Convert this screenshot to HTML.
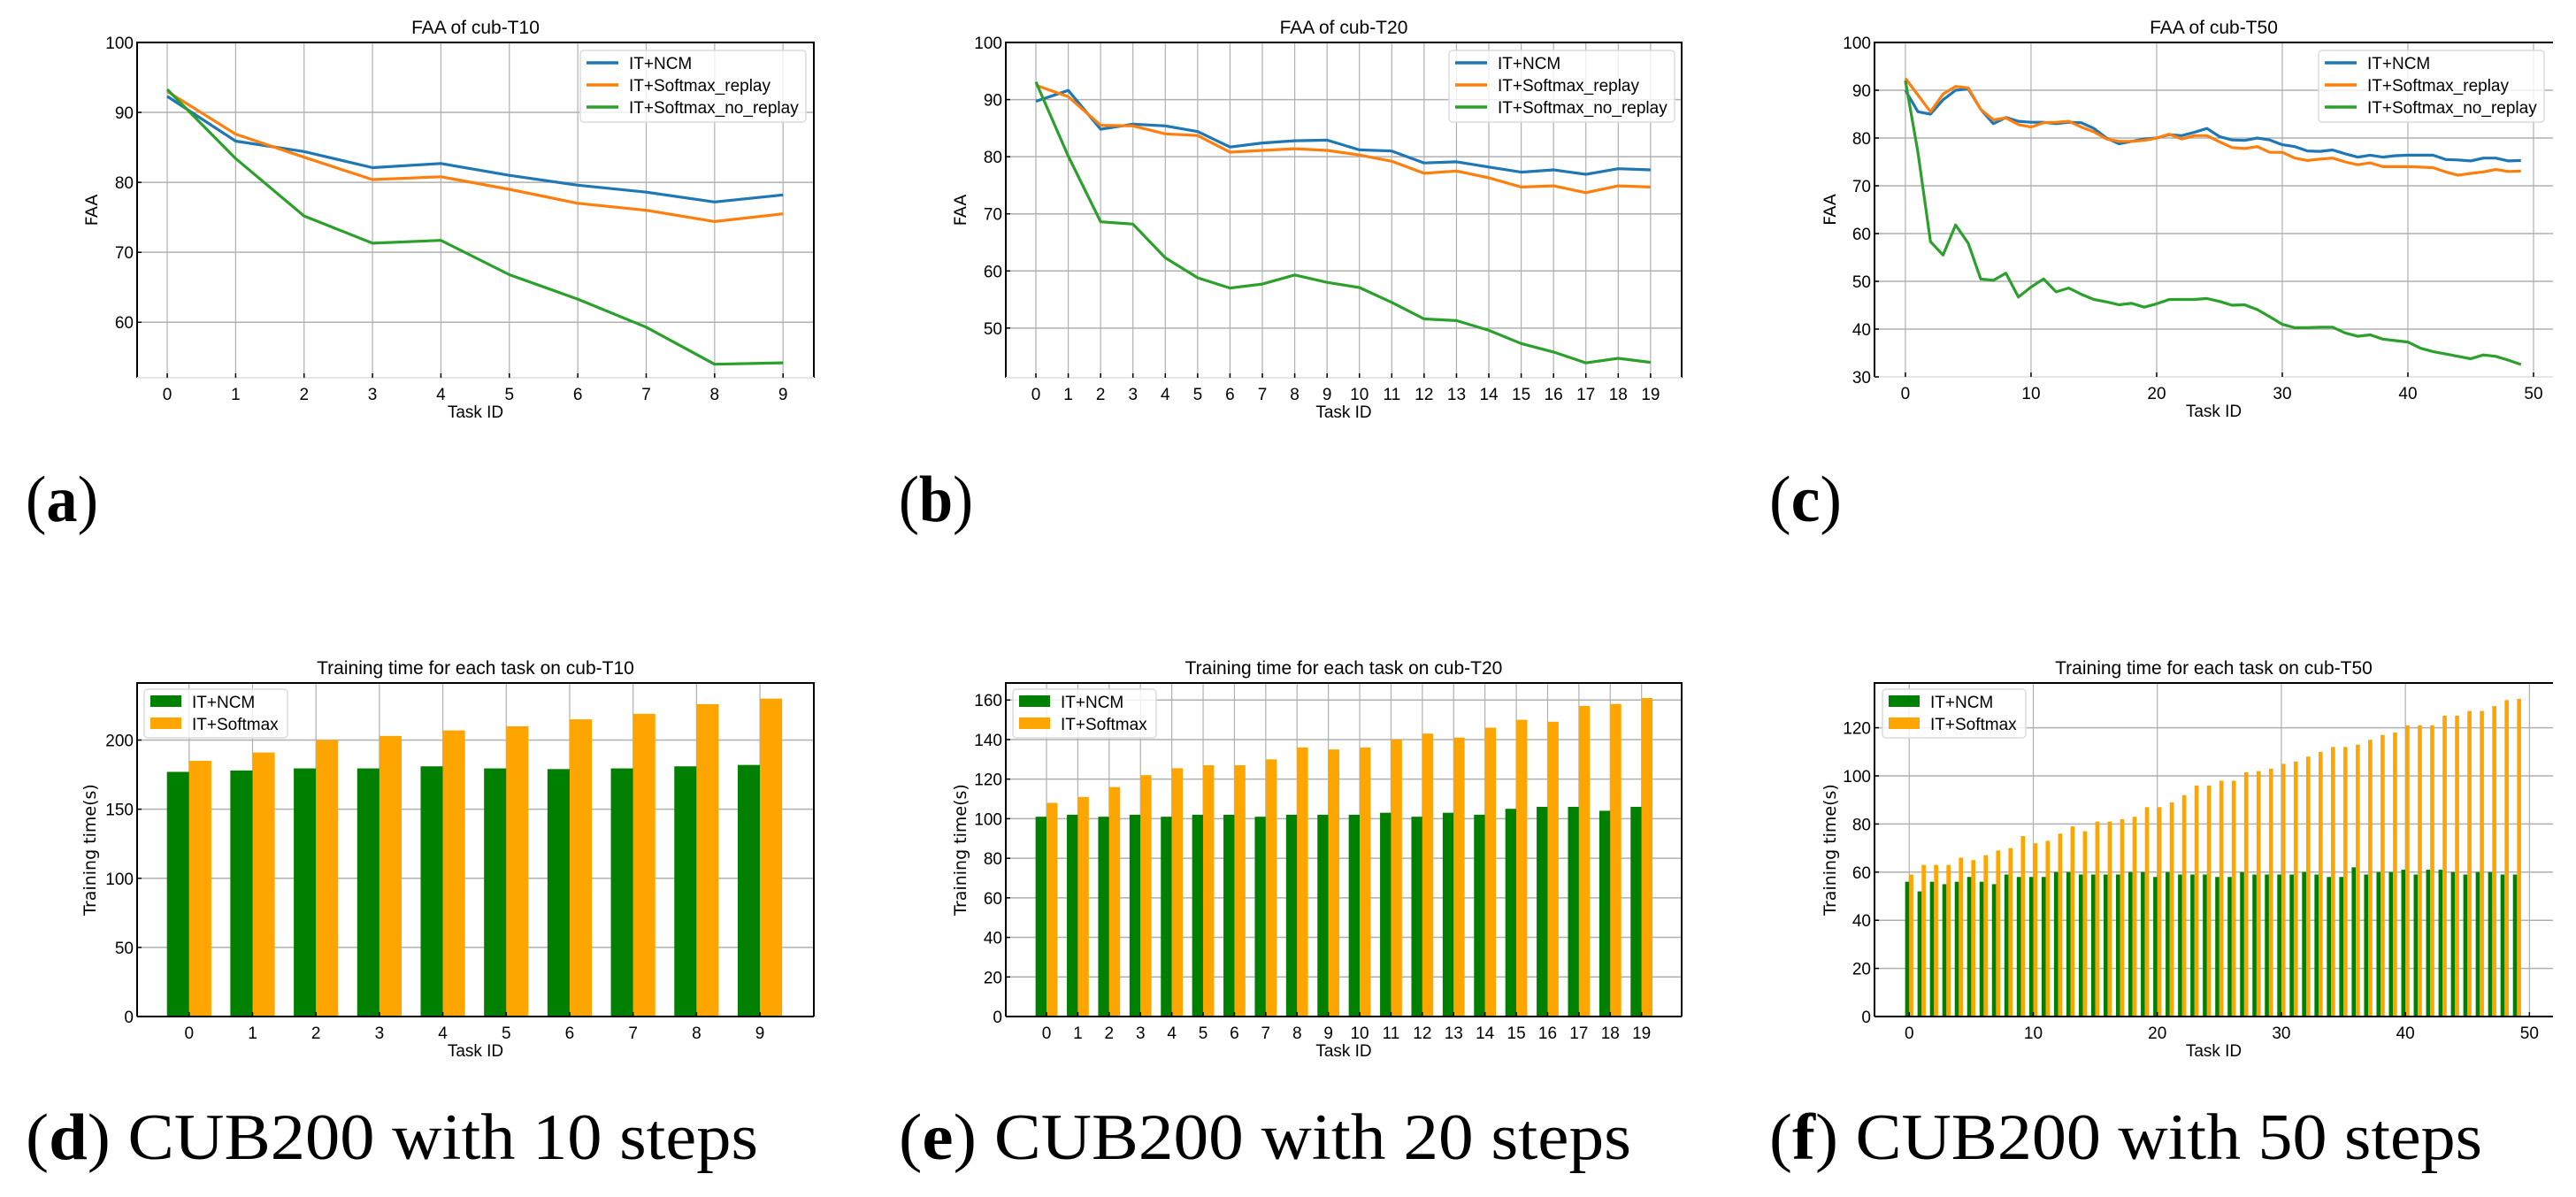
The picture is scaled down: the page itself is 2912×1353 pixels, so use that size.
<!DOCTYPE html>
<html><head><meta charset="utf-8"><style>
html,body{margin:0;padding:0;background:#fff;width:2912px;height:1353px;overflow:hidden}
svg{display:block}
</style></head><body>
<svg id="fig" width="2912" height="1353" viewBox="0 0 2912 1353" font-family="Liberation Sans, sans-serif"></svg>
<script>
// ---- data ----
const tasksT10 = [0,1,2,3,4,5,6,7,8,9];
const tasksT20 = [0,1,2,3,4,5,6,7,8,9,10,11,12,13,14,15,16,17,18,19];
const tasksT50 = Array.from({length:50},(_, i)=>i);

const faaT10Ncm = [92.3,85.9,84.4,82.1,82.7,81,79.6,78.6,77.2,78.2];
const faaT10Replay = [93,86.9,83.6,80.4,80.8,79,77,76,74.4,75.5];
const faaT10NoReplay = [93.3,83.4,75.2,71.3,71.7,66.8,63.3,59.3,54,54.2];

const faaT20Ncm = [89.7,91.6,84.8,85.7,85.4,84.4,81.7,82.4,82.8,82.9,81.2,81,78.9,79.1,78.2,77.3,77.7,76.9,77.9,77.7];
const faaT20Replay = [92.5,90.5,85.5,85.4,84,83.7,80.8,81.1,81.4,81.1,80.3,79.2,77.1,77.5,76.3,74.7,74.9,73.7,74.9,74.7];
const faaT20NoReplay = [93.1,80.1,68.6,68.2,62.3,58.8,57,57.7,59.3,58,57.1,54.5,51.6,51.3,49.6,47.3,45.8,43.9,44.7,44];

const faaT50Ncm = [90,85.5,85,88,90,90.3,86,83,84.3,83.5,83.3,83.3,83,83.3,83.2,82,80,78.8,79.3,79.8,80,80.7,80.5,81.2,82,80.3,79.6,79.5,80,79.6,78.6,78.2,77.3,77.2,77.5,76.7,76,76.4,76,76.3,76.4,76.4,76.4,75.5,75.4,75.2,75.8,75.8,75.2,75.3];
const faaT50Replay = [92.5,89,85.5,89.2,90.8,90.5,86,83.8,84.2,82.8,82.3,83.2,83.3,83.5,82.3,81.3,79.8,79.3,79.3,79.5,80,80.8,79.8,80.5,80.5,79.2,78,77.8,78.2,77,77,75.8,75.3,75.6,75.8,75,74.4,74.8,74,74,74,73.9,73.8,72.9,72.2,72.6,72.9,73.4,73,73.1];
const faaT50NoReplay = [92,77,58.3,55.5,61.8,58,50.5,50.2,51.7,46.7,48.8,50.5,47.8,48.6,47.3,46.2,45.7,45.1,45.4,44.6,45.3,46.2,46.2,46.2,46.4,45.8,45,45.1,44.1,42.6,41,40.3,40.3,40.4,40.4,39.2,38.5,38.8,37.9,37.6,37.3,36,35.3,34.8,34.3,33.8,34.6,34.3,33.5,32.6];

const timeT10Ncm = [177,178,179.5,179.5,181,179.5,179,179.5,181,182];
const timeT10Softmax = [185,191,200,203,207,210,215,219,226,230];
const timeT20Ncm = [101,102,101,102,101,102,102,101,102,102,102,103,101,103,102,105,106,106,104,106];
const timeT20Softmax = [108,111,116,122,125.5,127,127,130,136,135,136,140,143,141,146,150,149,157,158,161];
const timeT50Ncm = [56,52,56,55,56,58,56,55,59,58,58,58,60,60,59,59,59,59,60,60,58,60,59,59,59,58,58,60,59,59,59,59,60,59,58,58,62,59,60,60,61,59,61,61,60,59,60,60,59,59];
const timeT50Softmax = [59,63,63,63,66,65,67,69,70,75,72,73,76,79,77,81,81,82,83,87,87,89,92,96,96,98,98,101.5,102,103,105,106,108,110,112,112,113,115,117,118,121,121,121,125,125,127,127,129,131.5,132];

const yTicksT10 = [60,70,80,90,100];
const yTicksT20 = [50,60,70,80,90,100];
const yTicksT50 = [30,40,50,60,70,80,90,100];
const xTicksT50 = [0,10,20,30,40,50];
const yTicksTimeT10 = [0,50,100,150,200];
const yTicksTimeT20 = [0,20,40,60,80,100,120,140,160];
const yTicksTimeT50 = [0,20,40,60,80,100,120];

const lineLabels = ["IT+NCM","IT+Softmax_replay","IT+Softmax_no_replay"];
const barLabels = ["IT+NCM","IT+Softmax"];
const LC = ["#1f77b4","#ff7f0e","#2ca02c"];
const BC = ["#008000","#ffa500"];

const NS = "http://www.w3.org/2000/svg";
const svg = document.getElementById("fig");
function mk(tag, attrs, parent, txt){
  const e = document.createElementNS(NS, tag);
  for (const k in attrs) e.setAttribute(k, attrs[k]);
  if (txt !== undefined) e.textContent = txt;
  (parent||svg).appendChild(e);
  return e;
}

function axes(cfg){
  const g = mk("g", {});
  
  
  const sx = v => cfg.x0 + (v - cfg.xmin) / (cfg.xmax - cfg.xmin) * (cfg.x1 - cfg.x0);
  const sy = v => cfg.y1 - (v - cfg.ymin) / (cfg.ymax - cfg.ymin) * (cfg.y1 - cfg.y0);
  cfg.xticks.forEach(t => {
    const l = mk("line", {x1:sx(t), x2:sx(t), y1:cfg.y0, y2:cfg.y1, stroke:"#b0b0b0", "stroke-width":1.2}, g);
    
    
  });
  cfg.yticks.forEach(t => {
    const l = mk("line", {x1:cfg.x0, x2:cfg.x1, y1:sy(t), y2:sy(t), stroke:"#b0b0b0", "stroke-width":1.5}, g);
    
    
  });
  return {g, sx, sy};
}

function frame(cfg, A, bottomColor){
  const g = A.g;
  const right = cfg.noRight ? "" : ` L${cfg.x1},${cfg.y1}`;
  const sp = mk("path", {d:`M${cfg.x0},${cfg.y1} L${cfg.x0},${cfg.y0} L${cfg.x1},${cfg.y0}${right}`, fill:"none", stroke:"#000", "stroke-width":2}, g);
  
  
  const bt = mk("line", {x1:cfg.x0, x2:cfg.x1, y1:cfg.y1, y2:cfg.y1, stroke:bottomColor, "stroke-width":2}, g);
  
  
  cfg.xticks.forEach(t => {
    mk("line", {x1:A.sx(t), x2:A.sx(t), y1:cfg.y1, y2:cfg.y1-5, stroke:"#000", "stroke-width":1.5}, g);
    const tx = mk("text", {x:A.sx(t), y:cfg.y1+25, "text-anchor":"middle", "font-size":19}, g, String(t));
    
    
  });
  cfg.yticks.forEach(t => {
    mk("line", {x1:cfg.x0, x2:cfg.x0+5, y1:A.sy(t), y2:A.sy(t), stroke:"#000", "stroke-width":1.5}, g);
    const tx = mk("text", {x:cfg.x0-4, y:A.sy(t)+7, "text-anchor":"end", "font-size":19}, g, String(t));
    
    
  });
  const ti = mk("text", {x:(cfg.x0+cfg.x1)/2, y:cfg.y0-10, "text-anchor":"middle", "font-size":21}, g, cfg.title);
  
  
  const xl = mk("text", {x:(cfg.x0+cfg.x1)/2, y:cfg.y1+45, "text-anchor":"middle", "font-size":19}, g, "Task ID");
  
  
  const yl = mk("text", {x:0, y:0, "text-anchor":"middle", "font-size":19, style:"font-family:'DejaVu Sans',sans-serif", transform:`translate(${cfg.ylx},${(cfg.y0+cfg.y1)/2}) rotate(-90)`}, g, cfg.ylabel);
  
  
}

function lineChart(cfg, xs, series){
  const A = axes(cfg);
  series.forEach((s, k) => {
    const d = s.map((v,i) => (i?"L":"M") + A.sx(xs[i]).toFixed(1) + "," + A.sy(v).toFixed(1)).join(" ");
    const p = mk("path", {d, fill:"none", stroke:LC[k], "stroke-width":3.2, "stroke-linejoin":"round"}, A.g);
    
    
  });
  frame(cfg, A, "#e6e6e6");
  const L = cfg.legend;
  const lg = mk("g", {}, A.g);
  
  
  mk("rect", {x:L.x, y:L.y, width:L.w, height:81, rx:4, fill:"#fff", "fill-opacity":0.8, stroke:"#dcdcdc", "stroke-width":1.5}, lg);
  lineLabels.forEach((lab, k) => {
    const cy = L.y + 14 + k*25;
    mk("line", {x1:L.x+7, x2:L.x+43, y1:cy, y2:cy, stroke:LC[k], "stroke-width":3.5}, lg);
    const t = mk("text", {x:L.x+55, y:cy+7, "font-size":19}, lg, lab);
    
    
  });
}

function barChart(cfg, xs, a, b, w){
  const A = axes(cfg);
  [a,b].forEach((arr, k) => {
    arr.forEach((v,i) => {
      const xl = k===0 ? xs[i]-w : xs[i];
      const r = mk("rect", {x:A.sx(xl), y:A.sy(v), width:A.sx(xl+w)-A.sx(xl), height:A.sy(0)-A.sy(v), fill:BC[k]}, A.g);
      
      
    });
  });
  frame(cfg, A, "#000");
  const L = cfg.legend;
  const lg = mk("g", {}, A.g);
  
  
  mk("rect", {x:L.x, y:L.y, width:L.w, height:55, rx:4, fill:"#fff", "fill-opacity":0.8, stroke:"#dcdcdc", "stroke-width":1.5}, lg);
  barLabels.forEach((lab, k) => {
    const cy = L.y + 14 + k*25;
    mk("rect", {x:L.x+7, y:cy-7, width:35, height:13, fill:BC[k]}, lg);
    const t = mk("text", {x:L.x+54, y:cy+7, "font-size":19}, lg, lab);
    
    
  });
}

lineChart({name:"faa-cub-t10-chart", title:"FAA of cub-T10", ylabel:"FAA", x0:155, x1:920, y0:48, y1:427, xmin:-0.44, xmax:9.45, ymin:52.06, ymax:100, xticks:tasksT10, yticks:yTicksT10, ylx:110, legend:{x:656,y:57,w:255}},
  tasksT10, [faaT10Ncm, faaT10Replay, faaT10NoReplay]);
lineChart({name:"faa-cub-t20-chart", title:"FAA of cub-T20", ylabel:"FAA", x0:1137, x1:1901, y0:48, y1:427, xmin:-0.93, xmax:19.96, ymin:41.3, ymax:100, xticks:tasksT20, yticks:yTicksT20, ylx:1092, legend:{x:1638,y:57,w:255}},
  tasksT20, [faaT20Ncm, faaT20Replay, faaT20NoReplay]);
lineChart({name:"faa-cub-t50-chart", title:"FAA of cub-T50", ylabel:"FAA", x0:2119, x1:2886, y0:48, y1:426, xmin:-2.46, xmax:51.55, ymin:30, ymax:100, xticks:xTicksT50, yticks:yTicksT50, ylx:2075, noRight:true, legend:{x:2621,y:57,w:255}},
  tasksT50, [faaT50Ncm, faaT50Replay, faaT50NoReplay]);

barChart({name:"time-cub-t10-chart", title:"Training time for each task on cub-T10", ylabel:"Training time(s)", x0:155, x1:920, y0:772, y1:1149, xmin:-0.82, xmax:9.85, ymin:0, ymax:241.3, xticks:tasksT10, yticks:yTicksTimeT10, ylx:108, legend:{x:163,y:779,w:162}},
  tasksT10, timeT10Ncm, timeT10Softmax, 0.35);
barChart({name:"time-cub-t20-chart", title:"Training time for each task on cub-T20", ylabel:"Training time(s)", x0:1137, x1:1901, y0:772, y1:1149, xmin:-1.3, xmax:20.28, ymin:0, ymax:168.6, xticks:tasksT20, yticks:yTicksTimeT20, ylx:1092, legend:{x:1145,y:779,w:162}},
  tasksT20, timeT20Ncm, timeT20Softmax, 0.35);
barChart({name:"time-cub-t50-chart", title:"Training time for each task on cub-T50", ylabel:"Training time(s)", x0:2119, x1:2886, y0:772, y1:1149, xmin:-2.8, xmax:51.9, ymin:0, ymax:138.6, xticks:xTicksT50, yticks:yTicksTimeT50, ylx:2075, noRight:true, legend:{x:2128,y:779,w:162}},
  tasksT50, timeT50Ncm, timeT50Softmax, 0.33);

const caps = [
  {x:29, y:589, b:"a", t:"", w:82},
  {x:1016, y:589, b:"b", t:"", w:84},
  {x:2000, y:589, b:"c", t:"", w:82},
  {x:29, y:1310, b:"d", t:" CUB200 with 10 steps", w:828},
  {x:1016, y:1310, b:"e", t:" CUB200 with 20 steps", w:828},
  {x:2000, y:1310, b:"f", t:" CUB200 with 50 steps", w:806}
];
caps.forEach(c => {
  const t = mk("text", {x:c.x, y:c.y, "font-size":74, style:"font-family:'Liberation Serif',serif", textLength:c.w, lengthAdjust:"spacingAndGlyphs"});
  
  
  mk("tspan", {}, t, "(");
  mk("tspan", {"font-weight":"bold"}, t, c.b);
  mk("tspan", {}, t, ")" + c.t);
});
</script>
</body></html>
